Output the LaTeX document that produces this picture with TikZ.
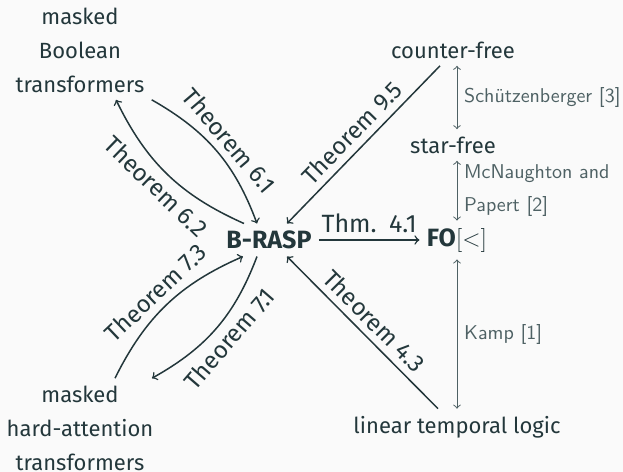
\documentclass[tikz,border=0pt]{standalone}
\usepackage{fontspec}
\setmainfont{Fira Sans}
\usetikzlibrary{arrows,positioning}

\definecolor{mDarkTeal}{HTML}{23373B}
\definecolor{mGrayTeal}{HTML}{4E6164}
\definecolor{mBack}{HTML}{FAFAFA}

\tikzset{
    cls/.style={align=center, font=\fontsize{11}{17}\selectfont},
    big/.style={font=\fontsize{12.5}{15}\selectfont},
    thm/.style={sloped, font=\fontsize{12}{14}\selectfont},
    equiv/.style={<->, mGrayTeal, line width=0.5pt},
    cite/.style={right, align=left, mGrayTeal,
        font=\sffamily\fontsize{10}{16.5}\selectfont},
}

\begin{document}
\begin{tikzpicture}[x=0.5pt, y=-0.5pt, mDarkTeal, line width=0.75pt]
    % background, 623 x 472
    \fill[mBack] (0,0) rectangle (623,472);
    \useasboundingbox (0,0) rectangle (623,472);

    % transformer classes on the left
    \node[cls] (mbt) at (80,50) {masked\\Boolean\\transformers};
    \node[cls] (mhat) at (80,428) {masked\\hard-attention\\transformers};

    % B-RASP in the middle, FO[<] to its right
    \node[big] (brasp) at (269,240) {\textbf{B-RASP}};
    \node[big] (fo) at (457,240) {\textbf{FO}$[<]$};

    % language classes on the right
    \node[cls] (cf) at (453,50) {counter-free};
    \node[cls] (sf) at (453,145) {star-free};
    \node[cls] (ltl) at (457,427) {linear temporal logic};

    % B-RASP <-> masked Boolean transformers
    \draw[->] (mbt.south east) to[bend left=20]
        node[thm,above] {Theorem 6.1} ([xshift=-6pt]brasp.north);
    \draw[->] ([xshift=-12.5pt]brasp.north) to[bend left=20]
        node[thm,below] {Theorem 6.2} ([xshift=18pt]mbt.south);

    % B-RASP <-> masked hard-attention transformers
    \draw[->] ([xshift=17.5pt]mhat.north) to[bend left=20]
        node[thm,above] {Theorem 7.3} ([xshift=-13pt]brasp.south);
    \draw[->] ([xshift=-6pt]brasp.south) to[bend left=20]
        node[thm,below] {Theorem 7.1} ([xshift=36pt]mhat.north);

    % into B-RASP from the right
    \draw[->] ([xshift=-6.5pt]cf.south) --
        node[thm,above] {Theorem 9.5} ([xshift=9pt]brasp.north);
    \draw[->] ([xshift=-9.5pt]ltl.north) --
        node[thm,above] {Theorem 4.3} ([xshift=9pt]brasp.south);
    \draw[->] (brasp.east) -- node[big,above] {Thm.\enspace4.1} (fo.west);

    % known equivalences
    \draw[equiv] (fo |- cf.south) -- node[cite] {Sch\"utzenberger [3]} (fo |- sf.north);
    \draw[equiv] (fo |- sf.south) -- node[cite] {McNaughton and\\Papert [2]} (fo.north);
    \draw[equiv] (fo.south) -- node[cite] {Kamp [1]} (fo |- ltl.north);
\end{tikzpicture}
\end{document}
